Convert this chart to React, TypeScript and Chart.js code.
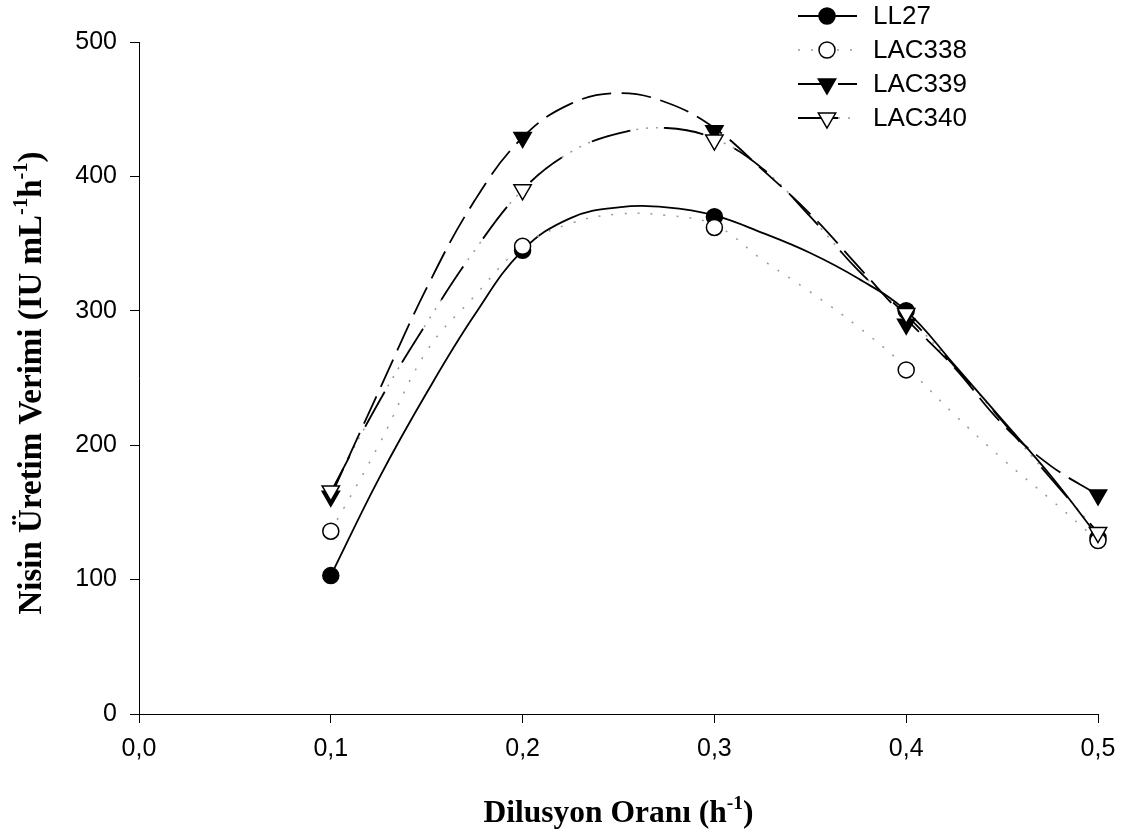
import React, { useEffect, useRef } from "react";
import { Chart, registerables } from "chart.js";

Chart.register(...registerables);

// ---- measured data points ----
const dilutionRates = [0.1, 0.2, 0.3, 0.4, 0.5];
const ll27 = [103, 345, 370, 300, 131];
const lac338 = [136, 348, 362, 256, 129];
const lac339 = [162, 429, 434, 290, 163];
const lac340 = [166, 390, 427, 298, 135];

// ---- fitted curves ----
const curveX = [0.1, 0.125, 0.15, 0.175, 0.2, 0.225, 0.25, 0.275, 0.3, 0.325, 0.35, 0.375, 0.4, 0.425, 0.45, 0.475, 0.5];
const ll27Curve = [103, 175, 239, 297, 345, 369, 377, 377, 371, 358, 343, 324, 300, 260, 219, 178, 132];
const lac338Curve = [136, 200, 270, 311, 348, 365, 372, 371, 364, 338, 314, 288, 258, 223, 190, 160, 129];
const lac339Curve = [162, 240, 317, 382, 429, 454, 462, 455, 436, 405, 372, 333, 294, 258, 216, 185, 163];
const lac340Curve = [165, 232, 291, 345, 390, 418, 432, 436, 428, 406, 370, 330, 297, 259, 218, 176, 135];

const seriesLabels = ["LL27", "LAC338", "LAC339", "LAC340"];
const xTickLabels = ["0,0", "0,1", "0,2", "0,3", "0,4", "0,5"];
const yTickLabels = ["0", "100", "200", "300", "400", "500"];

const SANS = "'Liberation Sans', Arial, sans-serif";
const SERIF = "'Liberation Serif', 'Times New Roman', serif";

type Style = {
  dash: number[];
  color: string;
  underDots?: boolean;
  marker: "circle" | "triangle";
  fill: string;
  radius: number;
};

const styles: Style[] = [
  { dash: [], color: "#000", marker: "circle", fill: "#000", radius: 8 },
  { dash: [2, 11], color: "#999", marker: "circle", fill: "#fff", radius: 8 },
  { dash: [30, 10], color: "#000", marker: "triangle", fill: "#000", radius: 10 },
  { dash: [40, 34], color: "#000", underDots: true, marker: "triangle", fill: "#fff", radius: 10 },
];

const toXY = (xs: number[], ys: number[]) => xs.map((x, i) => ({ x, y: ys[i] }));

function drawMarker(ctx: CanvasRenderingContext2D, s: Style, x: number, y: number) {
  ctx.save();
  ctx.setLineDash([]);
  ctx.lineWidth = 1.5;
  ctx.strokeStyle = "#000";
  ctx.fillStyle = s.fill;
  ctx.beginPath();
  if (s.marker === "circle") {
    ctx.arc(x, y, s.radius, 0, Math.PI * 2);
  } else {
    const r = s.radius;
    ctx.moveTo(x, y + r);
    ctx.lineTo(x - r * Math.sin(Math.PI / 3), y - r * 0.5);
    ctx.lineTo(x + r * Math.sin(Math.PI / 3), y - r * 0.5);
    ctx.closePath();
  }
  ctx.fill();
  ctx.stroke();
  ctx.restore();
}

type Seg = { t: string; sup?: boolean };

function drawRich(ctx: CanvasRenderingContext2D, segs: Seg[], cx: number, baseline: number, size: number) {
  const supSize = size * 0.62;
  const fontFor = (s: Seg) => `bold ${s.sup ? supSize : size}px ${SERIF}`;
  let total = 0;
  const widths = segs.map((s) => {
    ctx.font = fontFor(s);
    const w = ctx.measureText(s.t).width;
    total += w;
    return w;
  });
  let x = cx - total / 2;
  ctx.fillStyle = "#000";
  ctx.textAlign = "left";
  ctx.textBaseline = "alphabetic";
  segs.forEach((s, i) => {
    ctx.font = fontFor(s);
    ctx.fillText(s.t, x, s.sup ? baseline - size * 0.42 : baseline);
    x += widths[i];
  });
}

const decorPlugin = {
  id: "decor",
  afterDraw(chart: any) {
    const ctx: CanvasRenderingContext2D = chart.ctx;
    const area = chart.chartArea;
    // X title
    drawRich(
      ctx,
      [{ t: "Dilusyon Oranı (h" }, { t: "-1", sup: true }, { t: ")" }],
      (area.left + area.right) / 2,
      chart.height - 16,
      31.5
    );
    // Y title
    ctx.save();
    ctx.translate(41, (area.top + area.bottom) / 2 + 5);
    ctx.rotate(-Math.PI / 2);
    drawRich(
      ctx,
      [
        { t: "Nisin Üretim Verimi (IU mL" },
        { t: "-1", sup: true },
        { t: "h" },
        { t: "-1", sup: true },
        { t: ")" },
      ],
      0,
      0,
      33
    );
    ctx.restore();

    // Legend
    const lx0 = 798;
    const lx1 = 857;
    const mx = 827;
    const tx = 873;
    const y0 = 16;
    const dy = 34;
    seriesLabels.forEach((label, i) => {
      const s = styles[i];
      const y = y0 + i * dy;
      ctx.save();
      if (s.underDots) {
        ctx.strokeStyle = "#999";
        ctx.lineWidth = 1.5;
        ctx.setLineDash([2, 8]);
        ctx.beginPath();
        ctx.moveTo(lx0, y);
        ctx.lineTo(lx1, y);
        ctx.stroke();
      }
      ctx.strokeStyle = s.color;
      ctx.lineWidth = s.dash.length && s.dash[0] < 5 ? 1.5 : 1.8;
      ctx.setLineDash(s.dash);
      ctx.beginPath();
      ctx.moveTo(lx0, y);
      ctx.lineTo(lx1, y);
      ctx.stroke();
      ctx.restore();
      drawMarker(ctx, s, mx, y);
      ctx.fillStyle = "#000";
      ctx.font = `26px ${SANS}`;
      ctx.textAlign = "left";
      ctx.textBaseline = "middle";
      ctx.fillText(label, tx, y + 1);
    });
  },
};

export default function App() {
  const ref = useRef<HTMLCanvasElement | null>(null);

  useEffect(() => {
    document.body.style.margin = "0";
    if (!ref.current) return;
    const pointSets = [ll27, lac338, lac339, lac340];
    const curveSets = [ll27Curve, lac338Curve, lac339Curve, lac340Curve];

    const datasets: any[] = [];
    curveSets.forEach((c, i) => {
      const s = styles[i];
      if (s.underDots) {
        datasets.push({
          label: seriesLabels[i] + " dots",
          data: toXY(curveX, c),
          showLine: true,
          borderColor: "#999",
          borderWidth: 1.5,
          borderDash: [2, 8],
          pointRadius: 0,
          tension: 0.4,
          clip: false,
          order: 30,
        });
      }
      datasets.push({
        label: seriesLabels[i] + " curve",
        data: toXY(curveX, c),
        showLine: true,
        borderColor: s.color,
        borderWidth: s.dash.length && s.dash[0] < 5 ? 1.5 : 1.8,
        borderDash: s.dash,
        pointRadius: 0,
        tension: 0.4,
        clip: false,
        order: 20 - i,
      });
    });
    pointSets.forEach((p, i) => {
      const s = styles[i];
      datasets.push({
        label: seriesLabels[i],
        data: toXY(dilutionRates, p),
        showLine: false,
        pointStyle: s.marker,
        rotation: s.marker === "triangle" ? 180 : 0,
        pointRadius: s.radius,
        pointBackgroundColor: s.fill,
        pointBorderColor: "#000",
        pointBorderWidth: 1.5,
        clip: false,
        order: 4 - i,
      });
    });

    const chart = new Chart(ref.current, {
      type: "scatter",
      data: { datasets },
      options: {
        animation: false,
        responsive: false,
        maintainAspectRatio: false,
        layout: { padding: { left: 0, right: 29, top: 42, bottom: 0 } },
        plugins: { legend: { display: false }, tooltip: { enabled: false } },
        scales: {
          x: {
            type: "linear",
            min: 0,
            max: 0.5,
            afterFit: (s: any) => {
              s.height = 124;
            },
            afterBuildTicks: (s: any) => {
              s.ticks = xTickLabels.map((_, i) => ({ value: i / 10 }));
            },
            ticks: {
              callback: (_v: any, i: number) => xTickLabels[i],
              color: "#000",
              font: { family: SANS, size: 25 },
              padding: 11,
              maxRotation: 0,
            },
            grid: { drawOnChartArea: false, tickLength: 9, color: "#000", tickWidth: 1 },
            border: { display: true, color: "#000", width: 1 },
          },
          y: {
            type: "linear",
            min: 0,
            max: 500,
            afterFit: (s: any) => {
              s.width = 139;
            },
            afterBuildTicks: (s: any) => {
              s.ticks = yTickLabels.map((_, i) => ({ value: i * 100 }));
            },
            ticks: {
              callback: (_v: any, i: number) => yTickLabels[i],
              color: "#000",
              font: { family: SANS, size: 25 },
              padding: 13,
            },
            grid: { drawOnChartArea: false, tickLength: 9, color: "#000", tickWidth: 1 },
            border: { display: true, color: "#000", width: 1 },
          },
        },
      },
      plugins: [decorPlugin],
    } as any);
    return () => chart.destroy();
  }, []);

  return (
    <div style={{ width: 1127, height: 838, background: "#fff" }}>
      <canvas ref={ref} width={1127} height={838} style={{ display: "block" }} />
    </div>
  );
}
